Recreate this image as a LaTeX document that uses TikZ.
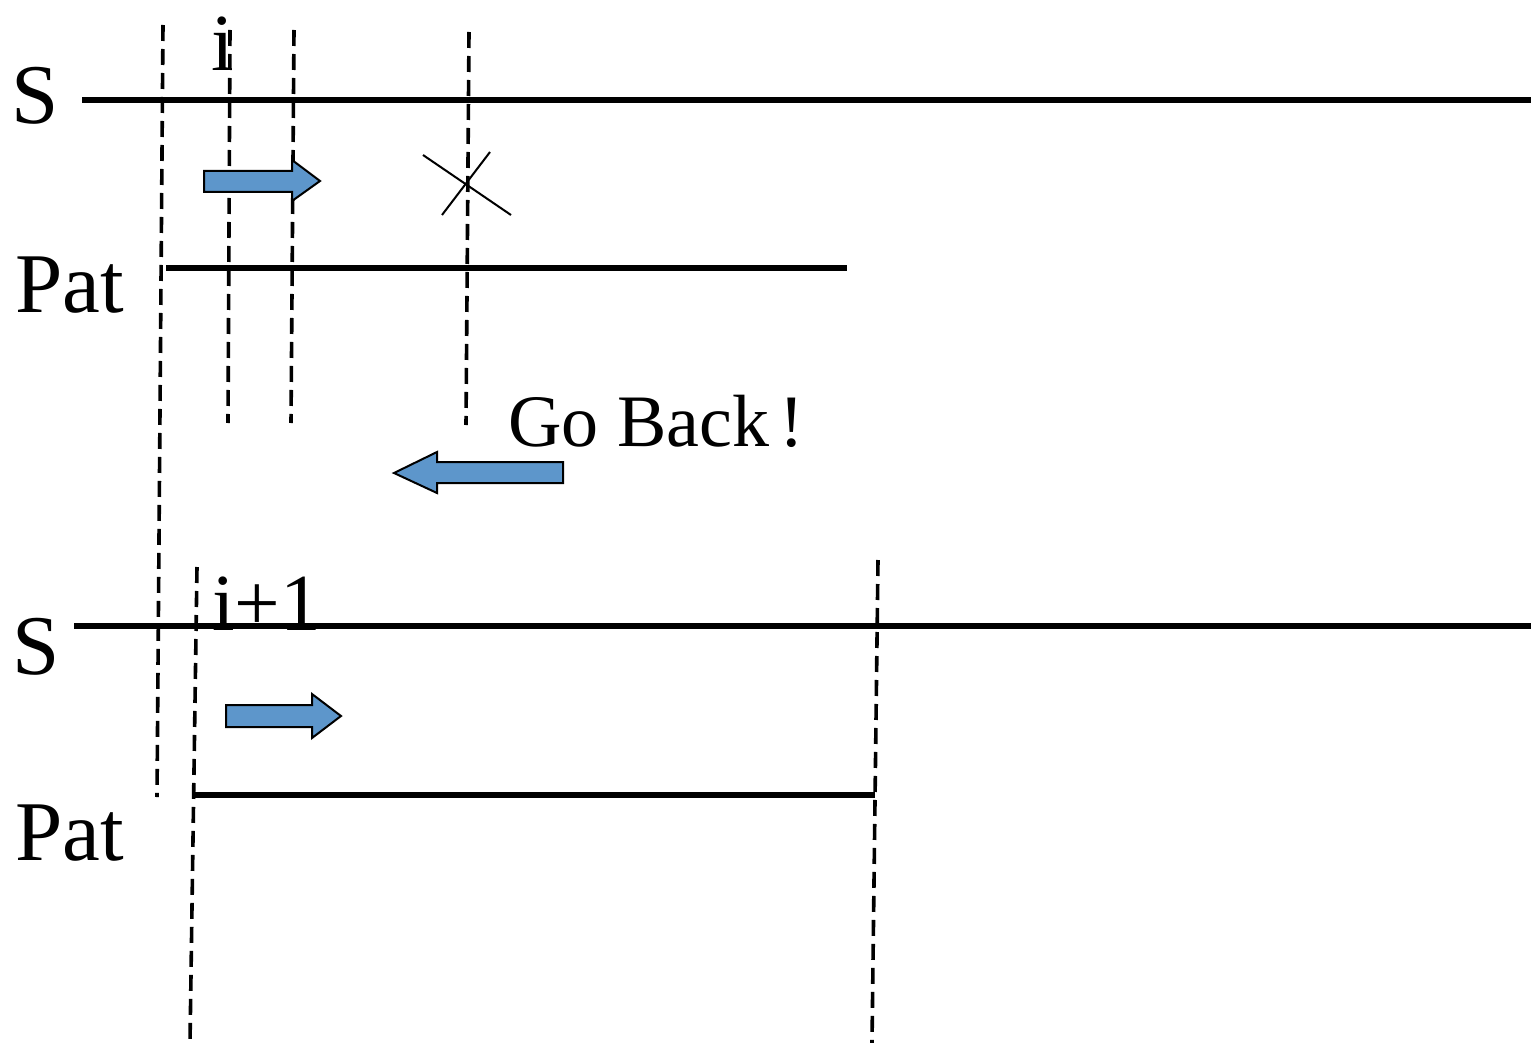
\documentclass[tikz,border=0pt]{standalone}
\usepackage{fontspec}
\setmainfont{Liberation Serif}
\definecolor{arrowblue}{RGB}{93,150,203}
\begin{document}
\begin{tikzpicture}[x=1pt,y=-1pt,
  solidline/.style={line width=6pt},
  guide/.style={line width=3.6pt,dash pattern=on 16pt off 8pt},
  blockarrow/.style={fill=arrowblue,draw=black,line width=2pt,line join=miter},
  bigtext/.style={inner sep=0pt,anchor=base west,font=\fontsize{85}{90}\selectfont},
  midtext/.style={inner sep=0pt,anchor=base west,font=\fontsize{81}{86}\selectfont},
  gotext/.style={inner sep=0pt,anchor=base west,font=\fontsize{74}{80}\selectfont},
  crossline/.style={line width=2pt}]
\useasboundingbox (0,0) rectangle (1531,1043);
% labels
\node[bigtext] (s1) at (11,124) {S};
\node[bigtext] (p1) at (15,312) {Pat};
\node[bigtext] (s2) at (12,674) {S};
\node[bigtext] (p2) at (15,860) {Pat};
\node[midtext] (i1) at (211,71) {i};
\node[midtext] (i2) at (212,630) {i+1};
\node[gotext] (gb) at (508,446) {Go Back\kern0.14em!};
% line end points
\coordinate (s1a) at (82,100);  \coordinate (s1b) at (1531,100);
\coordinate (p1a) at (166,268); \coordinate (p1b) at (847,268);
\coordinate (s2a) at (74,626);  \coordinate (s2b) at (1531,626);
\coordinate (p2a) at (192,795); \coordinate (p2b) at (875,795);
\draw[solidline] (s1a) -- (s1b);
\draw[solidline] (p1a) -- (p1b);
\draw[solidline] (s2a) -- (s2b);
\draw[solidline] (p2a) -- (p2b);
% dashed guides
\coordinate (g1a) at (163,25);  \coordinate (g1b) at (157,797);
\coordinate (g2a) at (230,30);  \coordinate (g2b) at (228,423);
\coordinate (g3a) at (294,30);  \coordinate (g3b) at (291,423);
\coordinate (g4a) at (469,32);  \coordinate (g4b) at (466,425);
\coordinate (g5a) at (197,567); \coordinate (g5b) at (190,1043);
\coordinate (g6a) at (878,560); \coordinate (g6b) at (872,1043);
\foreach \g in {1,...,6} \draw[guide] (g\g a) -- (g\g b);
% cross
\coordinate (c1a) at (423,155); \coordinate (c1b) at (511,215);
\coordinate (c2a) at (490,152); \coordinate (c2b) at (442,215);
\draw[crossline] (c1a) -- (c1b);
\draw[crossline] (c2a) -- (c2b);
% block arrows
\draw[blockarrow] (204,171) -- (292,171) -- (292,160) -- (320,181) -- (292,201) -- (292,192) -- (204,192) -- cycle;
\draw[blockarrow] (563,462) -- (437,462) -- (437,452) -- (394,473) -- (437,493) -- (437,483) -- (563,483) -- cycle;
\draw[blockarrow] (226,705) -- (312,705) -- (312,694) -- (341,716) -- (312,738) -- (312,727) -- (226,727) -- cycle;
\end{tikzpicture}
\end{document}
